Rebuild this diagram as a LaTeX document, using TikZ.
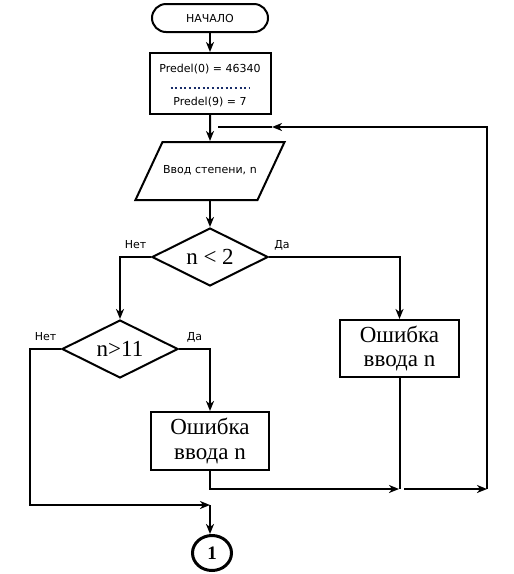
\documentclass[tikz,border=0pt]{standalone}
\usepackage{fontspec}
\setmainfont{Liberation Serif}
\newfontfamily\sansfont{DejaVu Sans}
\usetikzlibrary{arrows.meta,positioning,shapes.geometric}
\definecolor{dotblue}{RGB}{25,45,105}

\begin{document}
\begin{tikzpicture}[x=1pt,y=-1pt,line width=2pt,->,>={Stealth[length=10pt,width=8pt,inset=3pt]}]
  \tikzstyle{every node}=[inner sep=0pt]
  \tikzstyle{small}=[font=\sansfont\fontsize{11}{13}\selectfont]
  \tikzstyle{big}=[font=\fontsize{23}{24.5}\selectfont]
  \tikzstyle{terminal}=[draw,small,rectangle,rounded corners=14pt,minimum width=116pt,minimum height=28pt]
  \tikzstyle{block}=[draw,rectangle,align=center]
  \tikzstyle{io}=[draw,small,trapezium,trapezium left angle=65,trapezium right angle=115,text width=95pt,align=center,text height=8pt,text depth=2.5pt,inner xsep=0pt,inner ysep=23.75pt]
  \tikzstyle{decision}=[draw,big,diamond,aspect=2,minimum width=116pt,minimum height=58pt]
  \tikzstyle{answer}=[small,anchor=base,yshift=9pt]

  \useasboundingbox (0,0) rectangle (514,574);

  \node[terminal] (start) at (210,18) {НАЧАЛО};
  \node[block,minimum width=121pt,minimum height=61pt] (init) [below of=start,node distance=65.5pt] {};
  \node[small] (predel0) at ([yshift=14pt]init.center) {Predel(0) = 46340};
  \node[small] (predel9) at ([yshift=-18.5pt]init.center) {Predel(9) = 7};
  \node[io] (input) [below of=init,node distance=87.5pt] {Ввод степени, n};
  \node[decision] (cond1) [below of=input,node distance=86pt] {n < 2};
  \node[decision] (cond2) [below of=cond1,node distance=92pt,xshift=-90pt] {n>11};
  \node[block,big,minimum width=118pt,minimum height=58pt] (err1) [below of=cond2,node distance=92pt,xshift=90pt] {Ошибка\\ввода n};
  \node[block,big,minimum width=119pt,minimum height=57pt] (err2) [right of=cond1,node distance=189.5pt,yshift=-91.5pt] {Ошибка\\ввода n};
  \node[draw,ellipse,line width=3pt,minimum width=39pt,minimum height=35pt,font=\bfseries\fontsize{19}{20}\selectfont] (conn) [below of=err1,node distance=112pt,xshift=2pt] {1};

  \coordinate (leftrail) at (30,505);
  \coordinate (merge) at (210,505);
  \coordinate (join) at (399,489);
  \coordinate (railstart) at (404,489);
  \coordinate (railcorner) at (487,489);
  \coordinate (looptip) at (272,127);
  \coordinate (loopend) at (218,127);

  \draw (start) -- (init);
  \draw (init) -- (input);
  \draw (input) -- (cond1);
  \draw (cond1.west) -| node[answer,pos=0.25] {Нет} (cond2.north);
  \draw (cond1.east) -| node[answer,pos=0.05] {Да} (err2.north);
  \draw (cond2.east) -| node[answer,pos=0.25] {Да} (err1.north);
  \draw (cond2.west) -| node[answer,pos=0.25] {Нет} (leftrail) -- (merge);
  \draw (merge) -- (merge |- conn.north);
  \draw (err1.south) |- (join);
  \draw[-] (err2.south) -- (err2.south |- join);
  \draw (railstart) -- (railcorner);
  \draw (railcorner) |- (looptip);
  \draw[-] (looptip) -- (loopend);
  \draw[-,dotblue,dash pattern=on 2pt off 2.6pt] ([shift={(-39.5,4.8)}]init.center) -- ([shift={(39.5,4.8)}]init.center);
\end{tikzpicture}
\end{document}
